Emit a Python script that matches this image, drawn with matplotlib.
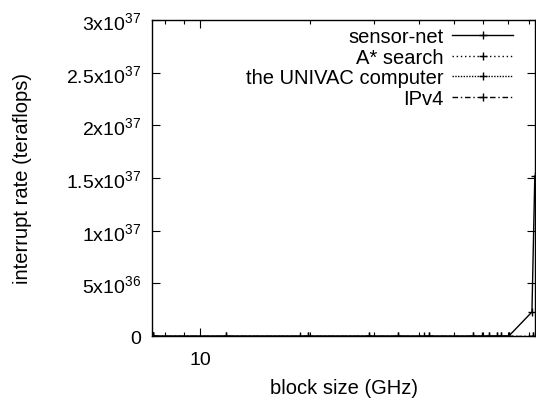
import numpy as np
import matplotlib
matplotlib.use('Agg')
import matplotlib.pyplot as plt
from matplotlib.ticker import FuncFormatter, FixedLocator

plt.rcParams['font.family'] = ['Liberation Sans', 'DejaVu Sans']
plt.rcParams['mathtext.fontset'] = 'custom'
plt.rcParams['mathtext.rm'] = 'Liberation Sans'
plt.rcParams['mathtext.it'] = 'Liberation Sans'

# data (block size in GHz, interrupt rate in teraflops)
sensor_x = [7.4, 11.8, 19.8, 29.2, 42.7, 56.3, 62.3, 67.2, 70.6, 81.7, 83.2]
sensor_y = [0, 0, 0, 0, 0, 0, 0, 0, 0, 2.28e36, 1.52e37]
astar_x = [7.4, 18.8, 34.9, 41.3, 59.6, 65.5, 82.5]
astar_y = [0, 0, 0, 0, 0, 0, 0]
univac_x = [7.4, 11.8, 29.2, 42.7, 62.3, 70.6]
univac_y = [0, 0, 0, 0, 0, 0]
ipv4_x = [7.4, 19.8, 34.9, 56.3, 65.5, 67.2, 82.5]
ipv4_y = [0, 0, 0, 0, 0, 0, 0]

labels = ['sensor-net', 'A* search', 'the UNIVAC computer', 'IPv4']
yticks = [0, 5e36, 1e37, 1.5e37, 2e37, 2.5e37, 3e37]

fig = plt.figure(figsize=(5.36, 4.06), dpi=100)
ax = fig.add_axes([152/536, 1-337/406, 383/536, 316/406])

ax.plot(sensor_x, sensor_y, color='black', lw=1, ls='-', marker='+', ms=6, label=labels[0])
ax.plot(astar_x, astar_y, color='black', lw=1, ls=(0, (1, 2)), marker='+', ms=6, label=labels[1])
ax.plot(univac_x, univac_y, color='black', lw=1, ls=(0, (1, 1)), marker='+', ms=6, label=labels[2])
ax.plot(ipv4_x, ipv4_y, color='black', lw=1, ls=(0, (4, 2, 1, 2)), marker='+', ms=6, label=labels[3])

ax.set_xscale('log')
ax.set_xlim(7.37, 83.3)
ax.set_ylim(0, 3e37)


def sci(v, pos):
    if v == 0:
        return '0'
    e = int(np.floor(np.log10(v)))
    m = v / 10**e
    ms = ('%.1f' % m).rstrip('0').rstrip('.')
    return '%sx10$^{%d}$' % (ms, e)


ax.yaxis.set_major_locator(FixedLocator(yticks))
ax.yaxis.set_major_formatter(FuncFormatter(sci))
ax.xaxis.set_major_formatter(FuncFormatter(lambda v, p: '%d' % v))
ax.xaxis.set_minor_formatter(FuncFormatter(lambda v, p: ''))

ax.tick_params(which='both', direction='in', top=True, right=True, labelsize=14, width=0.8)
ax.tick_params(which='major', length=6)
ax.tick_params(which='minor', length=3)
ax.tick_params(axis='y', pad=8)
ax.tick_params(axis='x', pad=11)
for s in ax.spines.values():
    s.set_linewidth(1)

ax.set_xlabel('block size (GHz)', fontsize=14.5, labelpad=7)
ax.set_ylabel('interrupt rate (teraflops)', fontsize=14.5, labelpad=24)

leg = ax.legend(loc='upper right', frameon=False, markerfirst=False, fontsize=14.5,
                handlelength=3.0, handletextpad=0.45, labelspacing=0.07,
                borderaxespad=0.0, bbox_to_anchor=(0.963, 1.002))

fig.savefig('out.png', dpi=100)
